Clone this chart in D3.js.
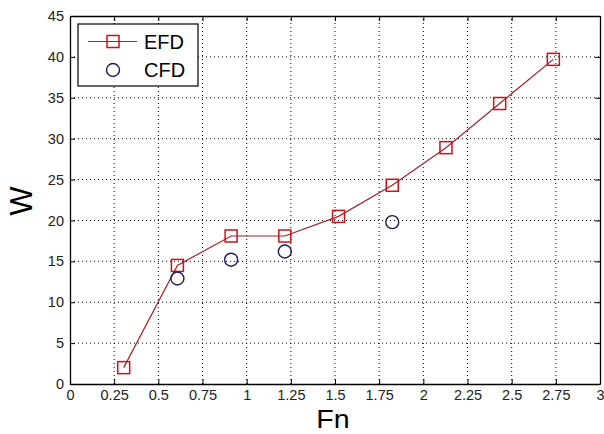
<!DOCTYPE html>
<html>
<head>
<meta charset="utf-8">
<script src="https://cdn.jsdelivr.net/npm/d3@7"></script>
<style>
  html, body { margin: 0; padding: 0; background: #fff; }
  svg { display: block; }
  text { font-family: "Liberation Sans", Arial, sans-serif; }
</style>
</head>
<body>
<svg id="chart" width="604" height="434"></svg>
<script>
// Froude number vs. W, experimental and computed
const efdFn = [0.304, 0.608, 0.912, 1.216, 1.52, 1.824, 2.128, 2.432, 2.736];
const efdW  = [2.0, 14.5, 18.1, 18.1, 20.5, 24.3, 28.9, 34.3, 39.7];
const cfdFn = [0.608, 0.912, 1.216, 1.824];
const cfdW  = [12.9, 15.2, 16.2, 19.8];
const xTicks = [0, 0.25, 0.5, 0.75, 1, 1.25, 1.5, 1.75, 2, 2.25, 2.5, 2.75, 3];
const yTicks = [0, 5, 10, 15, 20, 25, 30, 35, 40, 45];
const seriesNames = ["EFD", "CFD"];

const svg = d3.select("#chart");
const m = { left: 70, right: 4, top: 16, bottom: 50 };
const W = 604, H = 434;
const x = d3.scaleLinear().domain([0, 3]).range([m.left, W - m.right]);
const y = d3.scaleLinear().domain([0, 45]).range([H - m.bottom, m.top]);

const fmt = d => String(d);

// dotted grid
const grid = svg.append("g").attr("stroke", "#000").attr("stroke-width", 1)
  .attr("stroke-dasharray", "1,3");
xTicks.slice(1, -1).forEach(t => {
  grid.append("line").attr("x1", x(t)).attr("x2", x(t))
    .attr("y1", y(0)).attr("y2", y(45));
});
yTicks.slice(1, -1).forEach(t => {
  grid.append("line").attr("x1", x(0)).attr("x2", x(3))
    .attr("y1", y(t)).attr("y2", y(t));
});

// axes with inward ticks on all four sides
const tl = 5;
svg.append("g").attr("transform", `translate(0,${y(0)})`)
  .call(d3.axisBottom(x).tickValues(xTicks).tickFormat(fmt).tickSizeInner(-tl).tickSizeOuter(0).tickPadding(6))
  .call(g => g.selectAll("text").attr("font-size", 14.5).attr("fill", "#222"));
svg.append("g").attr("transform", `translate(0,${y(45)})`)
  .call(d3.axisTop(x).tickValues(xTicks).tickFormat("").tickSizeInner(-tl).tickSizeOuter(0));
svg.append("g").attr("transform", `translate(${x(0)},0)`)
  .call(d3.axisLeft(y).tickValues(yTicks).tickFormat(fmt).tickSizeInner(-tl).tickSizeOuter(0).tickPadding(6))
  .call(g => g.selectAll("text").attr("font-size", 14.5).attr("fill", "#222"));
svg.append("g").attr("transform", `translate(${x(3)},0)`)
  .call(d3.axisRight(y).tickValues(yTicks).tickFormat("").tickSizeInner(-tl).tickSizeOuter(0));
svg.selectAll(".domain").attr("stroke", "#000").attr("stroke-width", 1.3);
svg.selectAll(".tick line").attr("stroke", "#000");

// axis titles
svg.append("text").attr("x", 333).attr("y", 428)
  .attr("text-anchor", "middle").attr("font-size", 26).attr("transform", "translate(333,0) scale(1.1,1) translate(-333,0)")
  .text("Fn");
svg.append("text").attr("transform", `translate(32,201) rotate(-90)`)
  .attr("text-anchor", "middle").attr("font-size", 31).text("W");

// EFD line and square markers
const efd = efdFn.map((f, i) => ({ f, w: efdW[i] }));
const cfd = cfdFn.map((f, i) => ({ f, w: cfdW[i] }));
const lineColor = "#a0242c", markColor = "#d01018", circColor = "#1c1c5a";
svg.append("path").datum(efd)
  .attr("d", d3.line().x(d => x(d.f)).y(d => y(d.w)))
  .attr("fill", "none").attr("stroke", lineColor).attr("stroke-width", 1.2);
const sq = 12;
svg.selectAll("rect.efd").data(efd).join("rect").attr("class", "efd")
  .attr("x", d => x(d.f) - sq / 2).attr("y", d => y(d.w) - sq / 2)
  .attr("width", sq).attr("height", sq)
  .attr("fill", "none").attr("stroke", markColor).attr("stroke-width", 1.5);

// CFD circle markers
svg.selectAll("ellipse.cfd").data(cfd).join("ellipse").attr("class", "cfd")
  .attr("cx", d => x(d.f)).attr("cy", d => y(d.w)).attr("rx", 6.5).attr("ry", 6.5)
  .attr("fill", "none").attr("stroke", circColor).attr("stroke-width", 1.4);

// legend
const lg = svg.append("g");
lg.append("rect").attr("x", 78).attr("y", 24).attr("width", 120).attr("height", 62)
  .attr("fill", "#fff").attr("stroke", "#000").attr("stroke-width", 1.2);
lg.append("line").attr("x1", 88).attr("x2", 137).attr("y1", 41.5).attr("y2", 41.5)
  .attr("stroke", lineColor).attr("stroke-width", 1.2);
lg.append("rect").attr("x", 113 - sq / 2).attr("y", 41.5 - sq / 2).attr("width", sq).attr("height", sq)
  .attr("fill", "none").attr("stroke", markColor).attr("stroke-width", 1.5);
lg.append("ellipse").attr("cx", 113).attr("cy", 70).attr("rx", 6.5).attr("ry", 6.5)
  .attr("fill", "none").attr("stroke", circColor).attr("stroke-width", 1.4);
lg.selectAll("text.lbl").data(seriesNames).join("text").attr("class", "lbl")
  .attr("x", 144).attr("y", (d, i) => 48.5 + i * 28.5)
  .attr("font-size", 20).attr("fill", "#000").text(d => d);
</script>
</body>
</html>
